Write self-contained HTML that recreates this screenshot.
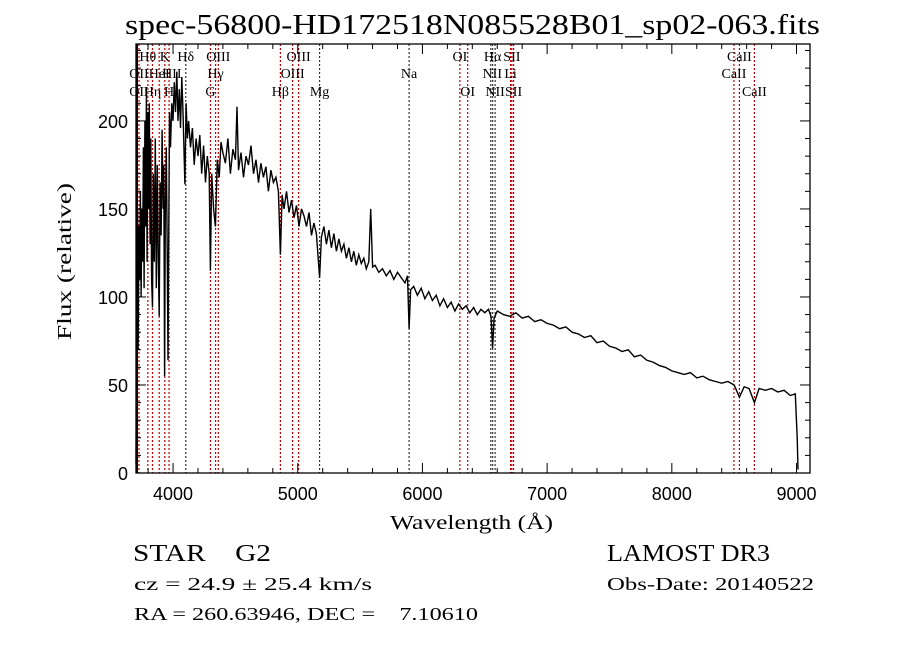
<!DOCTYPE html>
<html><head><meta charset="utf-8"><style>
html,body{margin:0;padding:0;background:#fff;}
svg text{font-family:"Liberation Serif",serif;fill:#000;white-space:pre;}
.tk{font-family:"Liberation Sans",sans-serif;font-size:18px;}
</style></head><body>
<svg id="chart" width="900" height="649" viewBox="0 0 900 649" xmlns="http://www.w3.org/2000/svg" xml:space="preserve">
<rect width="900" height="649" fill="#fff"/>
<text x="125" y="34" font-size="28" textLength="695" lengthAdjust="spacingAndGlyphs">spec-56800-HD172518N085528B01_sp02-063.fits</text>
<g id="lines"></g>
<g id="labels" font-size="14"></g>
<g id="spec"></g>
<g id="axes"></g>
<text x="390" y="529" font-size="20" textLength="163" lengthAdjust="spacingAndGlyphs">Wavelength (Å)</text>
<text transform="translate(71,340) rotate(-90)" font-size="20" textLength="157" lengthAdjust="spacingAndGlyphs">Flux (relative)</text>
<text x="133" y="561" font-size="24" textLength="138" lengthAdjust="spacingAndGlyphs">STAR&#160;&#160;&#160;&#160;G2</text>
<text x="607" y="561" font-size="24" textLength="163" lengthAdjust="spacingAndGlyphs">LAMOST DR3</text>
<text x="134" y="590" font-size="18" textLength="238" lengthAdjust="spacingAndGlyphs">cz = 24.9 ± 25.4 km/s</text>
<text x="607" y="590" font-size="18" textLength="207" lengthAdjust="spacingAndGlyphs">Obs-Date: 20140522</text>
<text x="134" y="620" font-size="18" textLength="344" lengthAdjust="spacingAndGlyphs">RA = 260.63946, DEC =&#160;&#160;&#160;&#160;7.10610</text>
</svg>
<script>
const waves=[3703,3708,3712,3716,3720,3726,3732,3738,3744,3750,3756,3762,3768,3774,3780,3786,3792,3798,3804,3810,3816,3822,3828,3835,3842,3850,3858,3866,3874,3882,3889,3896,3904,3912,3920,3926,3932,3938,3946,3954,3960,3966,3972,3980,3990,4000,4010,4020,4030,4040,4050,4060,4070,4080,4095,4105,4115,4125,4140,4155,4170,4185,4200,4215,4230,4245,4260,4275,4290,4300,4310,4325,4340,4355,4370,4385,4400,4420,4440,4460,4480,4500,4513,4525,4545,4565,4585,4605,4625,4645,4665,4685,4705,4725,4745,4765,4785,4805,4825,4845,4861,4875,4890,4910,4930,4950,4970,4990,5010,5030,5050,5070,5090,5110,5130,5150,5175,5190,5210,5230,5250,5270,5290,5310,5330,5350,5370,5390,5410,5430,5450,5470,5490,5510,5530,5550,5570,5585,5600,5620,5650,5680,5710,5740,5770,5800,5830,5860,5880,
5893,5905,5930,5960,5990,6020,6050,6080,6110,6140,6170,6200,6230,6260,6290,6320,6350,6380,6410,6440,6470,6500,6530,6550,6563,6575,6600,
6650,6700,6750,6800,6850,6900,6950,7000,7050,7100,7150,7200,7250,7300,7350,7400,7450,7500,7550,7600,7650,7700,7750,7800,7850,7900,7950,8000,8050,8100,8150,8200,8250,8300,8350,8400,8450,8500,
8542,8580,8620,8662,8700,8750,8800,8850,8900,8950,8990,9005,9012];
const flux=[5,70,130,150,70,140,110,160,100,150,120,185,105,200,140,215,120,205,150,210,130,190,110,94,170,120,190,105,175,120,89,165,135,195,150,175,55,150,185,120,64,140,205,185,210,200,222,205,228,200,218,196,225,205,164,210,190,200,185,196,175,190,180,192,170,186,165,180,170,115,170,150,140,178,168,188,182,176,190,170,184,178,208,172,182,168,180,175,186,170,178,165,176,168,174,160,172,165,168,160,124,158,150,160,148,155,145,152,140,150,146,140,148,135,142,136,111,134,140,130,138,128,136,126,133,126,130,122,128,120,126,118,124,119,122,116,120,150,117,118,114,116,112,115,110,114,111,108,112,
82,104,106,101,105,99,103,98,101,95,99,94,97,92,96,93,95,91,94,90,93,91,93,89,71,88,92,
90,89,91,88,89,86,87,85,84,82,83,80,79,77,78,74,75,72,71,69,70,66,67,64,63,61,60,58,57,56,57,54,55,53,52,51,52,50,
43,49,48,40,48,47,48,46,47,44,45,20,2];
const lineWaves=[3727,3798,3835,3889,3934,3968,4102,4300,4341,4363,4861,4959,5007,5175,5893,6300,6363,6548,6563,6583,6707,6717,6731,8498,8542,8662];
const lineRed=[1,1,1,1,1,1,0,1,1,1,1,1,1,0,0,1,1,0,0,0,1,1,1,1,1,1];
const labelText=["Hθ","K","Hδ","OIII","OIII","OI","Hα","SII","CaII","OII","HeI","HII","Hγ","OIII","Na","NII","Li","CaII","OII","Hη","H","G","Hβ","Mg","OI","NII","SII","CaII"];
const labelWave=[3798,3934,4102,4363,5007,6300,6563,6717,8542,3727,3889,3990,4341,4959,5893,6560,6707,8498,3727,3835,3968,4300,4861,5175,6363,6583,6731,8662];
const labelRow=[0,0,0,0,0,0,0,0,0,1,1,1,1,1,1,1,1,1,2,2,2,2,2,2,2,2,2,2];
const xTicks=[4000,5000,6000,7000,8000,9000];
const yTicks=[0,50,100,150,200];

const L=136,R=810,T=44,B=473, W0=3703, W1=9108, F0=0, F1=243.7;
const sx=w=>L+(w-W0)*(R-L)/(W1-W0);
const sy=f=>B-(f-F0)*(B-T)/(F1-F0);
const NS="http://www.w3.org/2000/svg";
function mk(tag,attrs,parent){const e=document.createElementNS(NS,tag);for(const k in attrs)e.setAttribute(k,attrs[k]);parent.appendChild(e);return e;}

const gl=document.getElementById('lines');
lineWaves.forEach((w,i)=>{
  const e=mk('line',{x1:sx(w),x2:sx(w),y1:T,y2:B,stroke:lineRed[i]?'#c00000':'#333','stroke-width':1.2,'stroke-dasharray':'2,2'},gl);
  
  
});
const glab=document.getElementById('labels');
const rowY=[61,78,96];
labelText.forEach((t,i)=>{
  const e=mk('text',{x:sx(labelWave[i]),y:rowY[labelRow[i]],'text-anchor':'middle'},glab);
  e.textContent=t;
  
  
});
const gs=document.getElementById('spec');
let d='';
waves.forEach((w,i)=>{d+=(i?'L':'M')+sx(w).toFixed(1)+','+sy(flux[i]).toFixed(1);});
const p=mk('path',{d:d,fill:'none',stroke:'#000','stroke-width':1.4,'stroke-linejoin':'miter'},gs);



const ga=document.getElementById('axes');
const fr=mk('rect',{x:L,y:T,width:R-L,height:B-T,fill:'none',stroke:'#000','stroke-width':1.3},ga);


mk('line',{x1:L+1,x2:L+1,y1:T,y2:B,stroke:'#000','stroke-width':2},ga);
for(let w=3800;w<=9100;w+=200){
  const maj=w%1000===0, len=maj?10:5;
  mk('line',{x1:sx(w),x2:sx(w),y1:B,y2:B-len,stroke:'#000'},ga);
  mk('line',{x1:sx(w),x2:sx(w),y1:T,y2:T+len,stroke:'#000'},ga);
}
for(let f=0;f<=240;f+=10){
  const maj=f%50===0, len=maj?10:5;
  mk('line',{x1:L,x2:L+len,y1:sy(f),y2:sy(f),stroke:'#000'},ga);
  mk('line',{x1:R,x2:R-len,y1:sy(f),y2:sy(f),stroke:'#000'},ga);
}
xTicks.forEach(v=>{
  const e=mk('text',{x:sx(v),y:B+27,'text-anchor':'middle',class:'tk'},ga);
  e.textContent=String(v);
  
  
});
yTicks.forEach(v=>{
  const e=mk('text',{x:L-8,y:sy(v)+7,'text-anchor':'end',class:'tk'},ga);
  e.textContent=String(v);
  
  
});
</script>
</body></html>
